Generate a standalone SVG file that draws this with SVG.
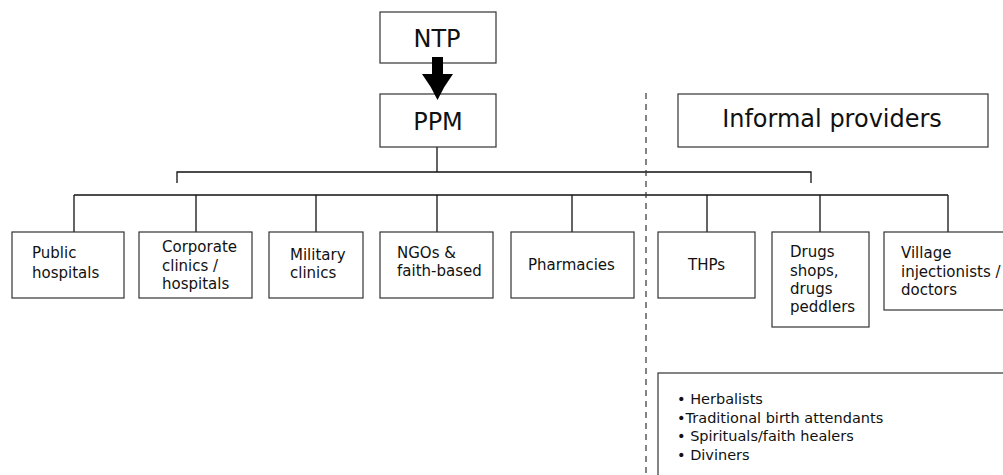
<svg xmlns="http://www.w3.org/2000/svg" width="1003" height="475" viewBox="0 0 1003 475">
<style>
.box{fill:#fff;stroke:#333;stroke-width:1.2}
.t{font-family:"DejaVu Sans",sans-serif;font-size:15px;fill:#111}
.big{font-family:"DejaVu Sans",sans-serif;font-size:24px;fill:#111}
.bl{font-family:"DejaVu Sans",sans-serif;font-size:14.5px;fill:#111}
.c{fill:none;stroke:#111;stroke-width:1.3}
</style>
<rect width="1003" height="475" fill="#fff"/>
<g id="connectors">
<line class="c" x1="437" y1="147" x2="437" y2="172"/>
<polyline class="c" points="177,183 177,172 811,172 811,183"/>
<line class="c" x1="74" y1="195" x2="948" y2="195"/>
<line class="c" x1="74" y1="195" x2="74" y2="232"/>
<line class="c" x1="196" y1="195" x2="196" y2="232"/>
<line class="c" x1="316" y1="195" x2="316" y2="232"/>
<line class="c" x1="437" y1="195" x2="437" y2="232"/>
<line class="c" x1="572" y1="195" x2="572" y2="232"/>
<line class="c" x1="707" y1="195" x2="707" y2="232"/>
<line class="c" x1="820" y1="195" x2="820" y2="232"/>
<line class="c" x1="948" y1="195" x2="948" y2="232"/>
<line x1="646" y1="93" x2="646" y2="475" stroke="#333" stroke-width="1.2" stroke-dasharray="6 5"/>
</g>
<g id="ntp"><rect class="box" x="380" y="12" width="116" height="51"/><text class="big" x="437" y="47" text-anchor="middle">NTP</text></g>
<g id="ppm"><rect class="box" x="380" y="94" width="116" height="53"/><text class="big" x="438" y="130" text-anchor="middle">PPM</text></g>
<g id="arrow"><path d="M432,57 H443 V74 H453 Q444,86 437.5,100 Q431,86 422,74 H432 Z" fill="#000"/></g>
<g id="informal"><rect class="box" x="678" y="94" width="310" height="53"/><text class="big" x="832" y="127" text-anchor="middle">Informal providers</text></g>
<g id="public"><rect class="box" x="12" y="232" width="112" height="66"/><text class="t" x="32" y="258">Public</text><text class="t" x="32" y="278">hospitals</text></g>
<g id="corporate"><rect class="box" x="139" y="232" width="113" height="66"/><text class="t" x="162" y="252">Corporate</text><text class="t" x="162" y="270.5">clinics /</text><text class="t" x="162" y="289">hospitals</text></g>
<g id="military"><rect class="box" x="269" y="232" width="94" height="66"/><text class="t" x="290" y="260">Military</text><text class="t" x="290" y="278">clinics</text></g>
<g id="ngos"><rect class="box" x="380" y="232" width="113" height="66"/><text class="t" x="397" y="258">NGOs &amp;</text><text class="t" x="397" y="276">faith-based</text></g>
<g id="pharmacies"><rect class="box" x="511" y="232" width="123" height="66"/><text class="t" x="528" y="270">Pharmacies</text></g>
<g id="thps"><rect class="box" x="658" y="232" width="97" height="66"/><text class="t" x="688" y="270">THPs</text></g>
<g id="drugs"><rect class="box" x="772" y="232" width="97" height="95"/><text class="t" x="790" y="257">Drugs</text><text class="t" x="790" y="275.5">shops,</text><text class="t" x="790" y="294">drugs</text><text class="t" x="790" y="312">peddlers</text></g>
<g id="village"><rect class="box" x="884" y="232" width="130" height="78"/><text class="t" x="901" y="258">Village</text><text class="t" x="901" y="277">injectionists /</text><text class="t" x="901" y="295">doctors</text></g>
<g id="list"><rect class="box" x="658" y="373" width="360" height="120"/>
<text class="bl" x="677" y="404">• Herbalists</text>
<text class="bl" x="677" y="423">•Traditional birth attendants</text>
<text class="bl" x="677" y="441">• Spirituals/faith healers</text>
<text class="bl" x="677" y="460">• Diviners</text>
</g>
</svg>
